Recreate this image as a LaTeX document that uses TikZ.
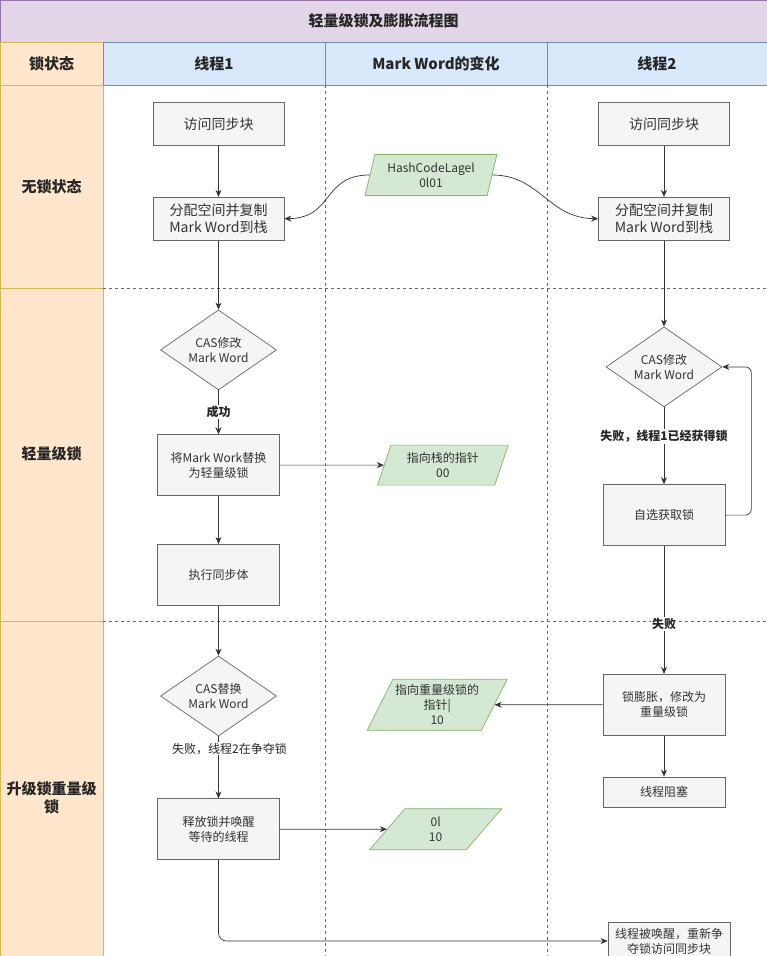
\documentclass[tikz,border=0pt]{standalone}
\usepackage{fontspec}
\setmainfont{Noto Sans CJK SC}
\usetikzlibrary{arrows.meta, positioning, shapes.geometric}

\definecolor{titlefill}{HTML}{E1D5E7}
\definecolor{titleline}{HTML}{9673A6}
\definecolor{headfill}{HTML}{DAE8FC}
\definecolor{headline}{HTML}{6C8EBF}
\definecolor{lanefill}{HTML}{FFE6CC}
\definecolor{laneline}{HTML}{D6B656}
\definecolor{boxfill}{HTML}{F5F5F5}
\definecolor{boxline}{HTML}{666666}
\definecolor{boxtext}{HTML}{333333}
\definecolor{wordfill}{HTML}{D5E8D4}
\definecolor{wordline}{HTML}{82B366}

\begin{document}
\begin{tikzpicture}[
  x=1pt, y=-1pt,
  box/.style={
    draw=boxline,
    fill=boxfill,
    text=boxtext,
    minimum width=122pt,
    minimum height=61pt,
    align=center,
    inner sep=2pt,
    line width=0.7pt,
    font=\fontsize{12}{15}\selectfont
  },
  bigbox/.style={box, minimum width=131pt, minimum height=43pt, font=\fontsize{14}{17}\selectfont},
  check/.style={
    diamond,
    aspect=1.45,
    draw=boxline,
    fill=boxfill,
    text=boxtext,
    minimum width=116pt,
    minimum height=80pt,
    align=center,
    inner sep=0pt,
    line width=0.7pt,
    font=\fontsize{12}{15}\selectfont
  },
  word/.style={
    trapezium,
    trapezium left angle=#1,
    trapezium right angle={180-#1},
    trapezium stretches=true,
    draw=wordline,
    fill=wordfill,
    text=boxtext,
    minimum width=132pt,
    minimum height=41pt,
    align=center,
    inner xsep=0pt,
    inner ysep=1pt,
    line width=0.7pt,
    font=\fontsize{12}{15}\selectfont
  },
  head/.style={font=\fontsize{15}{18}\selectfont\bfseries, text=black!85, align=center},
  lane/.style={draw=laneline, fill=lanefill, line width=0.8pt},
  sep/.style={draw=boxline, dash pattern=on 3pt off 3pt, line width=0.6pt},
  tag/.style={fill=white, inner sep=1pt, text=black!85, font=\fontsize{12}{15}\selectfont\bfseries},
  flow/.style={draw=black!80, line width=0.7pt, -{Stealth[length=7pt,width=6pt]}}
]
\useasboundingbox (0,0) rectangle (767,956);

% Title and header row
\draw[draw=titleline, fill=titlefill, line width=0.8pt] (0,0) rectangle (767,42);
\node[head] (title) at (383.5,21) {轻量级锁及膨胀流程图};
\draw[lane] (0,42) rectangle (103,85);
\node[head] (hstate) at (51.5,63.5) {锁状态};
\draw[draw=headline, fill=headfill, line width=0.8pt] (103,42) rectangle (325,85);
\draw[draw=headline, fill=headfill, line width=0.8pt] (325,42) rectangle (547,85);
\draw[draw=headline, fill=headfill, line width=0.8pt] (547,42) rectangle (767,85);
\node[head] (hone) at (214,63.5) {线程1};
\node[head] (hword) at (436,63.5) {Mark Word的变化};
\node[head] (htwo) at (657,63.5) {线程2};

% Lanes
\draw[lane] (0,85) rectangle (103,288);
\draw[lane] (0,288) rectangle (103,621);
\draw[lane] (0,621) rectangle (103,980);
\node[head] (lfree) at (51.5,186.5) {无锁状态};
\node[head] (llight) at (51.5,454) {轻量级锁};
\node[head] (lheavy) at (51.5,798) {升级锁重量级\\锁};
\draw[sep] (103,288) -- (767,288);
\draw[sep] (103,621) -- (767,621);
\draw[sep] (325,85) -- (325,956);
\draw[sep] (547,85) -- (547,956);

% Thread 1
\node[bigbox] (t1a) at (218.5,124) {访问同步块};
\node[bigbox, below=51pt of t1a] (t1b) {分配空间并复制\\Mark Word到栈};
\node[check, below=69pt of t1b] (t1cas) {CAS修改\\Mark Word};
\node[box, below=44pt of t1cas] (t1c) {将Mark Work替换\\为轻量级锁};
\node[box, below=48pt of t1c] (t1d) {执行同步体};
\node[check, below=50pt of t1d] (t1cas2) {CAS替换\\Mark Word};
\node[box, below=62pt of t1cas2] (t1e) {释放锁并唤醒\\等待的线程};

% Thread 2
\node[bigbox] (t2a) at (664,124) {访问同步块};
\node[bigbox, below=51pt of t2a] (t2b) {分配空间并复制\\Mark Word到栈};
\node[check, below=86pt of t2b] (t2cas) {CAS修改\\Mark Word};
\node[box, below=77pt of t2cas] (t2c) {自选获取锁};
\node[box, below=128pt of t2c] (t2d) {锁膨胀，修改为\\重量级锁};
\node[box, below=41pt of t2d, minimum height=30pt] (t2e) {线程阻塞};
\node[box, minimum height=38pt] (t2f) at (669,941) {线程被唤醒，重新争\\夺锁访问同步块};

% Mark Word
\node[word=74] (hash) at (431,175) {HashCodeLagel\\0l01};
\node[word=71, minimum width=131pt, minimum height=40pt, right=104pt of t1c] (ptr) {指向栈的指针\\00};
\node[word=60, minimum width=140pt, minimum height=51pt, left=108pt of t2d] (heavy) {指向重量级锁的\\指针|\\10};
\node[word=74, right=107pt of t1e] (ol) {0l\\10};

% Arrows
\draw[flow] (t1a) -- (t1b);
\draw[flow] (t1b) -- (t1cas);
\draw[flow] (t1cas) -- node[tag] {成功} (t1c);
\draw[flow] (t1c) -- (ptr);
\draw[flow] (t1c) -- (t1d);
\draw[flow] (t1d) -- (t1cas2);
\draw[flow] (t1cas2) -- node[tag, pos=0.2, xshift=11pt, font=\fontsize{12}{15}\selectfont] {失败，线程2在争夺锁} (t1e);
\draw[flow] (t1e) -- (ol);
\draw[flow, rounded corners=8pt] (t1e.south) |- (t2f.west);

\draw[flow] (hash.west) .. controls (322,175) and (334,218) .. (t1b.east);
\draw[flow] (hash.east) .. controls (540,175) and (548,218) .. (t2b.west);

\draw[flow] (t2a) -- (t2b);
\draw[flow] (t2b) -- (t2cas);
\draw[flow] (t2cas) -- node[tag, pos=0.38] {失败，线程1已经获得锁} (t2c);
\draw[flow, rounded corners=6pt] (t2c.east) -- ++(26,0) |- (t2cas.east);
\draw[flow] (t2c) -- node[tag, pos=0.61] {失败} (t2d);
\draw[flow] (t2d) -- (heavy);
\draw[flow] (t2d) -- (t2e);

\end{tikzpicture}
\end{document}
